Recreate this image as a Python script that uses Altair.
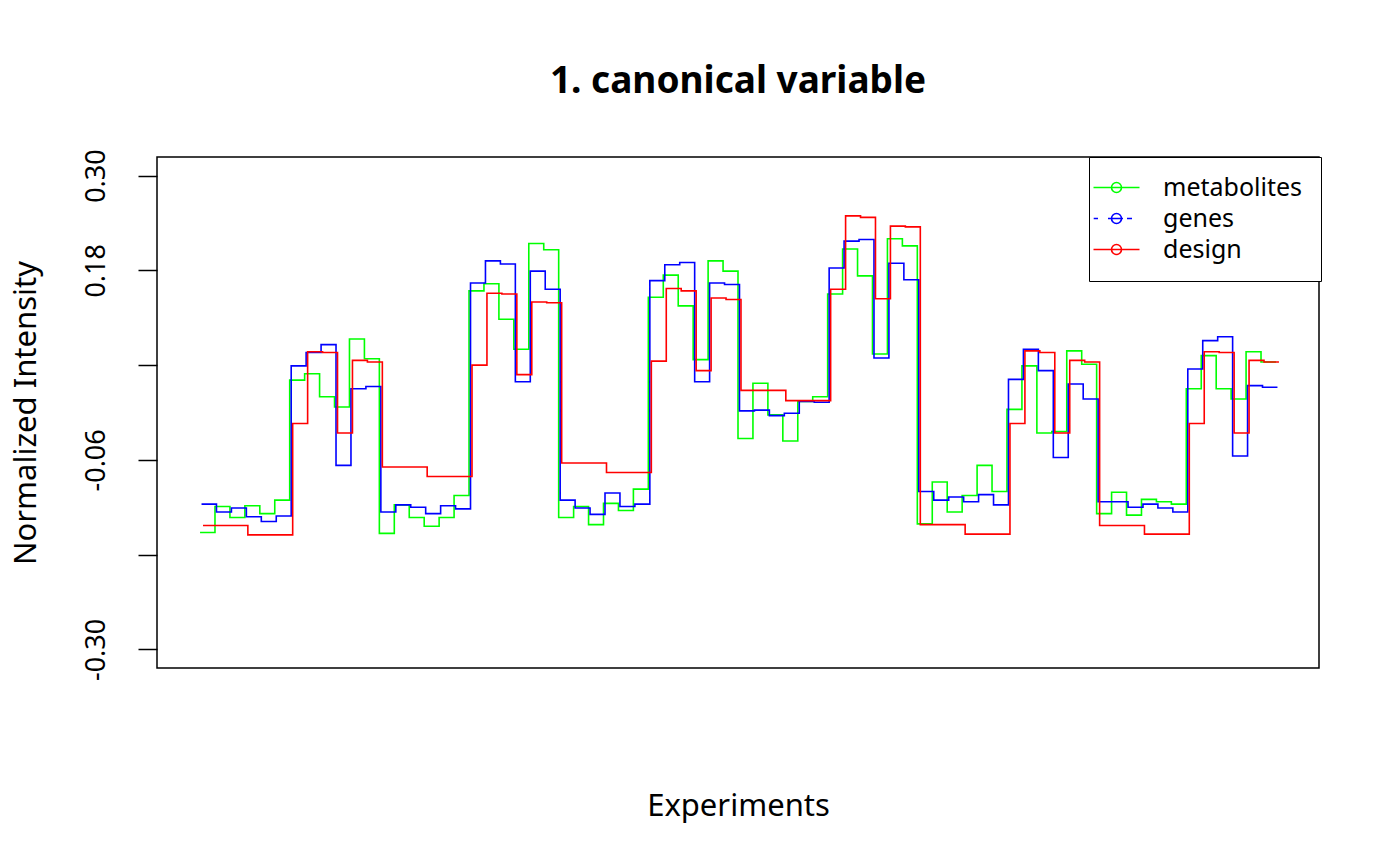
import altair as alt
import pandas as pd

# ---- data (72 steps per series) ----
metabolites = [
    -0.152, -0.119, -0.133, -0.118, -0.128, -0.111, 0.041, 0.049, 0.020, 0.007, 0.093, 0.068,
    -0.153, -0.117, -0.133, -0.144, -0.133, -0.105, 0.154, 0.163, 0.118, 0.080, 0.214, 0.206,
    -0.133, -0.119, -0.142, -0.115, -0.124, -0.097, 0.146, 0.174, 0.135, 0.067, 0.192, 0.179,
    -0.033, 0.037, -0.003, -0.036, 0.014, 0.020, 0.150, 0.207, 0.173, 0.074, 0.220, 0.211,
    -0.141, -0.088, -0.126, -0.105, -0.067, -0.100, 0.004, 0.059, -0.026, -0.024, 0.078, 0.061,
    -0.128, -0.101, -0.130, -0.110, -0.113, -0.116, 0.030, 0.072, 0.030, 0.017, 0.077, 0.064,
]
genes = [
    -0.116, -0.126, -0.121, -0.132, -0.138, -0.131, 0.059, 0.076, 0.086, -0.067, 0.030, 0.033,
    -0.126, -0.117, -0.120, -0.128, -0.118, -0.122, 0.164, 0.192, 0.188, 0.039, 0.179, 0.156,
    -0.111, -0.121, -0.129, -0.102, -0.119, -0.116, 0.167, 0.187, 0.190, 0.039, 0.164, 0.162,
    0.002, 0.003, -0.004, -0.001, 0.014, 0.013, 0.183, 0.217, 0.219, 0.069, 0.189, 0.168,
    -0.100, -0.111, -0.107, -0.113, -0.104, -0.117, 0.042, 0.080, 0.053, -0.057, 0.036, 0.017,
    -0.113, -0.113, -0.120, -0.116, -0.121, -0.126, 0.055, 0.091, 0.096, -0.055, 0.034, 0.032,
]
design = [
    -0.143, -0.143, -0.143, -0.155, -0.155, -0.155, -0.014, 0.077, 0.076, -0.026, 0.066, 0.064,
    -0.069, -0.069, -0.069, -0.081, -0.081, -0.081, 0.060, 0.151, 0.150, 0.048, 0.140, 0.139,
    -0.064, -0.064, -0.064, -0.076, -0.076, -0.076, 0.065, 0.157, 0.154, 0.053, 0.145, 0.143,
    0.028, 0.028, 0.028, 0.015, 0.015, 0.015, 0.156, 0.249, 0.247, 0.144, 0.236, 0.235,
    -0.142, -0.142, -0.142, -0.154, -0.154, -0.154, -0.014, 0.078, 0.076, -0.026, 0.066, 0.064,
    -0.143, -0.143, -0.143, -0.154, -0.154, -0.154, -0.014, 0.077, 0.076, -0.026, 0.066, 0.064,
]
series_names = ["metabolites", "genes", "design"]
series_colors = ["#00ff00", "#0000ff", "#ff0000"]
series_values = [metabolites, genes, design]
x_shift = [0.0, 0.1, 0.2]
y_ticks = [-0.30, -0.18, -0.06, 0.06, 0.18, 0.30]

rows = []
for name, vals, sh in zip(series_names, series_values, x_shift):
    n = len(vals)
    for i in range(n + 1):
        rows.append({"series": name, "x": i + 1 + sh, "value": vals[min(i, n - 1)]})
df = pd.DataFrame(rows)

FONT = "Noto Sans"

xscale = alt.Scale(domain=[-1.88, 75.88], nice=False, zero=False)
yscale = alt.Scale(domain=[-0.3235, 0.3235], nice=False, zero=False)
cscale = alt.Scale(domain=series_names, range=series_colors)

xaxis = alt.Axis(
    title="Experiments", labels=False, ticks=False, domain=False, grid=False,
    titleFont=FONT, titleFontSize=31, titleFontWeight="normal", titleColor="black",
    titleX=581, titleY=147, titleAlign="center", titleBaseline="alphabetic",
)
yaxis = alt.Axis(
    title="Normalized Intensity", values=y_ticks, grid=False, domain=False,
    tickSize=19, tickWidth=1.5, tickColor="black",
    labelExpr="(abs(datum.value - 0.06) < 1e-6 || abs(datum.value + 0.18) < 1e-6) ? '' : replace(format(datum.value, '.2f'), '\u2212', '-')",
    labelAngle=270, labelAlign="center", labelBaseline="alphabetic", labelPadding=34,
    labelFont=FONT, labelFontSize=27, labelColor="black", labelOverlap=False,
    titleFont=FONT, titleFontSize=31, titleFontWeight="normal", titleColor="black",
    titleAngle=270, titleX=-122, titleY=255.5, titleAlign="center", titleBaseline="alphabetic",
)

# legend symbols: a line with an open circle (unit = 10 px when symbolSize = 400)
solid_sym = "M-2.6,0H2.0M0.2,0A0.5,0.5,0,1,1,-0.8,0A0.5,0.5,0,1,1,0.2,0"
dash_sym = "M-2.58,0H-2.15M-1.15,0H0.35M0.75,0H1.25M0.2,0A0.5,0.5,0,1,1,-0.8,0A0.5,0.5,0,1,1,0.2,0"

legend = alt.Legend(
    title=None, orient="none", legendX=932, legendY=0,
    strokeColor="black", fillColor="white", padding=18,
    labelFont=FONT, labelFontSize=25, labelColor="black", labelOffset=31,
    symbolSize=400, symbolStrokeWidth=1.6, symbolOpacity=1, rowPadding=5,
)


def line_layer(name):
    return (
        alt.Chart(df)
        .transform_filter(alt.datum.series == name)
        .mark_line(interpolate="step-after", strokeWidth=1.6)
        .encode(
            x=alt.X("x:Q", scale=xscale, axis=xaxis),
            y=alt.Y("value:Q", scale=yscale, axis=yaxis),
            color=alt.Color("series:N", scale=cscale, legend=legend),
        )
    )


legend_layer = (
    alt.Chart(df)
    .transform_filter("false")
    .mark_point(filled=False, opacity=1)
    .encode(
        x=alt.X("x:Q", scale=xscale, axis=xaxis),
        y=alt.Y("value:Q", scale=yscale, axis=yaxis),
        color=alt.Color("series:N", scale=cscale, legend=legend),
        shape=alt.Shape("series:N", scale=alt.Scale(domain=series_names, range=[solid_sym, dash_sym, solid_sym]), legend=legend),
    )
)

chart = (
    alt.layer(*[line_layer(n) for n in series_names], legend_layer)
    .properties(
        width=1162,
        height=511,
        title=alt.TitleParams(
            "1. canonical variable", font=FONT, fontSize=37, fontWeight="bold",
            color="black", anchor="middle", baseline="alphabetic", offset=19,
        ),
        padding={"left": 149, "top": 149, "right": 60, "bottom": 190},
        autosize=alt.AutoSizeParams(type="none"),
    )
    .configure(background="white")
    .configure_view(stroke="black", strokeWidth=1.5)
)

chart.save("out.html", embed_options={"renderer": "svg", "actions": False})
